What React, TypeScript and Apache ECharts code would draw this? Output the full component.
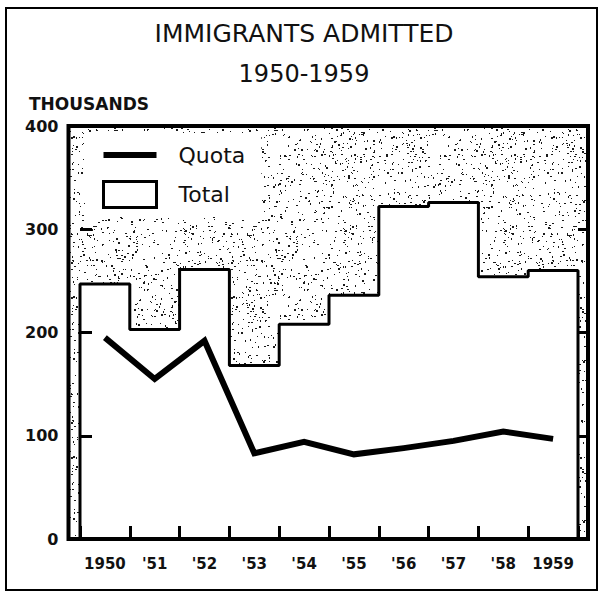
import React, { useEffect, useRef } from 'react';
import * as echarts from 'echarts';

const years = ['1950', "'51", "'52", "'53", "'54", "'55", "'56", "'57", "'58", '1959'];
const quota = [195, 155, 192, 83, 94, 82, 88, 95, 104, 97];
const total = [247, 203, 261, 168, 208, 236, 322, 326, 254, 260];
const yMin = 0;
const yMax = 400;
const yStep = 100;

const FONT = 'DejaVu Sans';

function makeStipple(): HTMLCanvasElement {
  const size = 160;
  const c = document.createElement('canvas');
  c.width = size;
  c.height = size;
  const ctx = c.getContext('2d') as CanvasRenderingContext2D;
  ctx.fillStyle = '#ffffff';
  ctx.fillRect(0, 0, size, size);
  let s = 987654321;
  const rnd = () => {
    s = (Math.imul(s, 1103515245) + 12345) >>> 0;
    return s / 4294967296;
  };
  ctx.fillStyle = '#1a1a1a';
  for (let i = 0; i < 820; i++) {
    const x = Math.floor(rnd() * size);
    const y = Math.floor(rnd() * size);
    const w = rnd() < 0.35 ? 2 : 1;
    const h = rnd() < 0.25 ? 2 : 1;
    ctx.fillRect(x, y, w, h);
  }
  return c;
}

export default function App() {
  const ref = useRef<HTMLDivElement>(null);

  useEffect(() => {
    if (!ref.current) return;
    const chart = echarts.init(ref.current, undefined, { renderer: 'svg' });
    const stipple = makeStipple();

    // step outline for totals: from axis up, across each year, back down to axis
    const totalSteps: number[][] = [[0, 0]];
    total.forEach((v, i) => totalSteps.push([i, v]));
    totalSteps.push([total.length, total[total.length - 1]]);
    totalSteps.push([total.length, 0]);

    const plotL = 68.5, plotT = 126, plotR = 588, plotB = 539;

    const option: any = {
      animation: false,
      backgroundColor: '#ffffff',
      textStyle: { fontFamily: FONT },
      title: [
        {
          text: 'IMMIGRANTS ADMITTED',
          left: 304,
          top: 21,
          textAlign: 'center',
          padding: 0,
          textStyle: { fontFamily: FONT, fontSize: 25, fontWeight: 'normal', color: '#111' },
        },
        {
          text: '1950-1959',
          left: 304,
          top: 62,
          textAlign: 'center',
          padding: 0,
          textStyle: { fontFamily: FONT, fontSize: 24, fontWeight: 'normal', color: '#111' },
        },
      ],
      legend: {
        orient: 'vertical',
        left: 85,
        top: 133,
        padding: [11, 16, 8, 17],
        backgroundColor: '#ffffff',
        itemWidth: 53,
        itemHeight: 26,
        itemGap: 14,
        selectedMode: false,
        textStyle: { fontFamily: FONT, fontSize: 22, color: '#111', padding: [0, 0, 0, 17] },
        data: [
          { name: 'Quota', icon: 'path://M0,0H53V6H0Z', itemStyle: { color: '#000', borderWidth: 0 } },
          { name: 'Total', icon: 'rect', itemStyle: { color: '#ffffff', borderColor: '#000', borderWidth: 3 } },
        ],
      },
      grid: { left: 80, right: 22, top: 126, bottom: 53 },
      xAxis: [
        {
          type: 'value',
          min: 0,
          max: years.length,
          interval: 1,
          z: 10,
          axisLine: { show: false },
          axisTick: { show: true, inside: true, length: 13, lineStyle: { width: 3, color: '#000' } },
          axisLabel: { show: false },
          splitLine: { show: false },
        },
        {
          type: 'category',
          data: years,
          position: 'bottom',
          axisLine: { show: false },
          axisTick: { show: false },
          axisLabel: { interval: 0, margin: 17, fontFamily: FONT, fontSize: 15, fontWeight: 'bold', color: '#111' },
          splitLine: { show: false },
        },
      ],
      yAxis: [
        {
          type: 'value',
          min: yMin,
          max: yMax,
          interval: yStep,
          position: 'left',
          offset: 11.5,
          z: 10,
          name: 'THOUSANDS',
          nameLocation: 'end',
          nameGap: 14,
          nameTextStyle: { fontFamily: FONT, fontSize: 17, fontWeight: 'bold', color: '#111', padding: [0, 0, 0, 18] },
          axisLine: { show: false },
          axisTick: { show: true, inside: true, length: 12, lineStyle: { width: 3, color: '#000' } },
          axisLabel: { margin: 10, fontFamily: FONT, fontSize: 16, fontWeight: 'bold', color: '#111' },
          splitLine: { show: false },
        },
        {
          type: 'value',
          min: yMin,
          max: yMax,
          interval: yStep,
          position: 'right',
          offset: 10,
          z: 10,
          axisLine: { show: false },
          axisTick: { show: true, inside: true, length: 10, lineStyle: { width: 3, color: '#000' } },
          axisLabel: { show: false },
          splitLine: { show: false },
        },
      ],
      series: [
        {
          name: 'Total',
          type: 'line',
          xAxisIndex: 0,
          yAxisIndex: 0,
          step: 'end',
          data: totalSteps,
          symbol: 'none',
          clip: false,
          lineStyle: { color: '#000', width: 3 },
          itemStyle: { color: '#000' },
          areaStyle: { color: '#ffffff', opacity: 1 },
          z: 2,
        },
        {
          name: 'Quota',
          type: 'line',
          xAxisIndex: 1,
          yAxisIndex: 0,
          data: quota,
          symbol: 'none',
          lineStyle: { color: '#000', width: 6, join: 'miter' },
          itemStyle: { color: '#000' },
          z: 3,
        },
      ],
      graphic: [
        {
          type: 'rect',
          silent: true,
          z: 0,
          shape: { x: plotL, y: plotT, width: plotR - plotL, height: plotB - plotT },
          style: { fill: { image: stipple, repeat: 'repeat', imageWidth: 160, imageHeight: 160 } as any },
        },
        {
          type: 'rect',
          silent: true,
          z: 100,
          shape: { x: plotL, y: plotT, width: plotR - plotL, height: plotB - plotT },
          style: { fill: 'none', stroke: '#000', lineWidth: 4 },
        },
        {
          type: 'rect',
          silent: true,
          z: 100,
          shape: { x: 6, y: 8, width: 591, height: 582 },
          style: { fill: 'none', stroke: '#000', lineWidth: 2 },
        },
      ],
    };
    chart.setOption(option);
    return () => chart.dispose();
  }, []);

  return (
    <div
      ref={ref}
      style={{ position: 'absolute', left: 0, top: 0, width: 600, height: 592 }}
    />
  );
}
